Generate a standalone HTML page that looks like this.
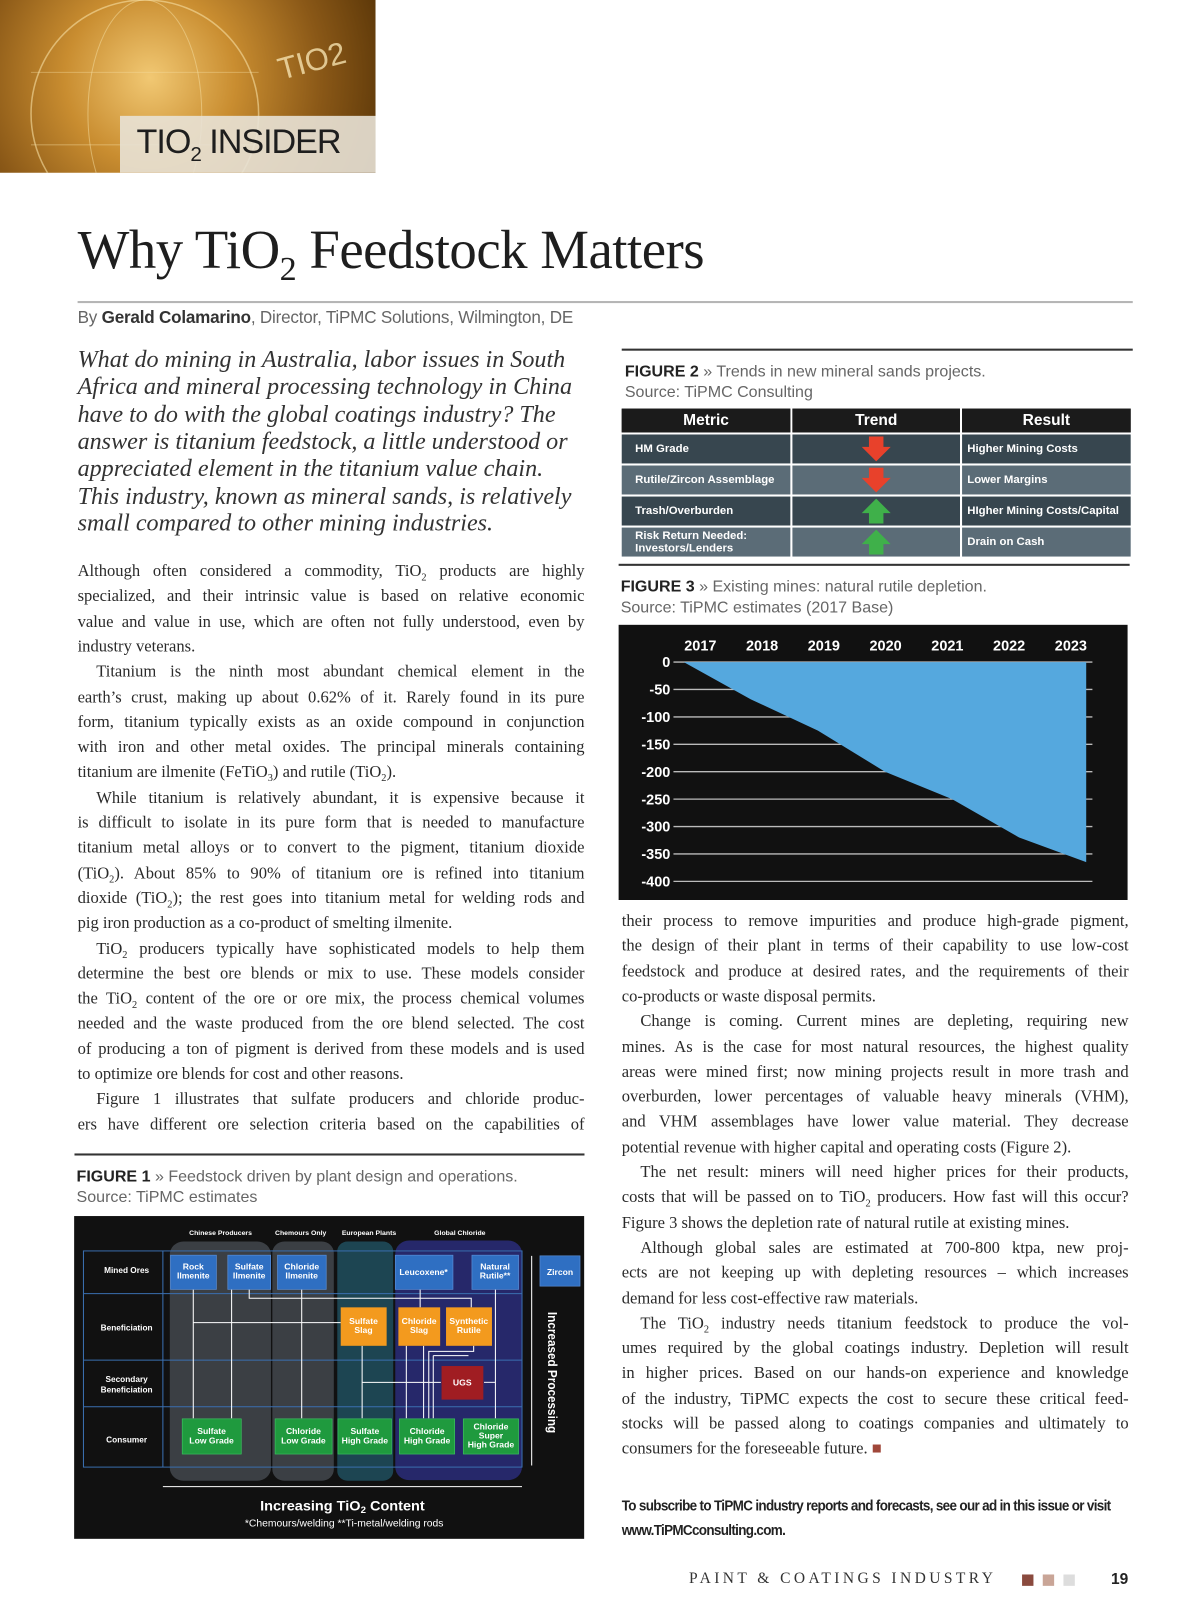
<!DOCTYPE html>
<html><head><meta charset="utf-8">
<style>
html,body{margin:0;padding:0;background:#fff;}
body{width:1200px;height:1613px;overflow:hidden;position:relative;}
#pg{position:absolute;left:0;top:0;width:1160px;height:1560px;transform:scale(1.03448);transform-origin:0 0;}
.a{position:absolute;}
.serif{font-family:"Liberation Serif",serif;}
.sans{font-family:"Liberation Sans",sans-serif;}
.ln{position:absolute;font-family:"Liberation Serif",serif;font-size:16px;color:#2a2a2a;white-space:nowrap;text-align:justify;text-align-last:justify;height:20px;line-height:20px;}
.ln.e{text-align-last:left;}
.it{position:absolute;left:75px;font-family:"Liberation Serif",serif;font-style:italic;font-size:23.3px;color:#333;white-space:nowrap;line-height:26px;}
.cap{position:absolute;font-family:"Liberation Sans",sans-serif;font-size:15.5px;color:#666;line-height:20px;white-space:nowrap;}
.cap b{color:#222;}
table.t{border-collapse:separate;border-spacing:2px;font-family:"Liberation Sans",sans-serif;color:#fff;}
</style></head><body>
<div id="pg">

<div class="a" style="left:0;top:0;width:363px;height:167px;background:radial-gradient(circle at 40% 45%,#f1c873 0%,#c98d30 35%,#8a5817 70%,#5a3608 100%);overflow:hidden;">
  <svg width="363" height="167" style="position:absolute;left:0;top:0">
    <circle cx="140" cy="110" r="110" fill="none" stroke="#f6dfa4" stroke-width="1.5" opacity=".6"/>
    <ellipse cx="140" cy="110" rx="55" ry="110" fill="none" stroke="#f6dfa4" stroke-width="1" opacity=".5"/>
    <line x1="30" y1="70" x2="250" y2="70" stroke="#f6dfa4" opacity=".4"/>
    <line x1="30" y1="140" x2="250" y2="140" stroke="#f6dfa4" opacity=".4"/>
    <text x="268" y="72" font-family="Liberation Sans,sans-serif" font-size="30" fill="#f6e3b0" opacity=".8" transform="rotate(-15 290 60)">TIO2</text>
  </svg>
  <div class="a" style="left:116px;top:112px;width:247px;height:55px;background:rgba(232,226,214,.9);"></div>
  <div class="a sans" style="left:132px;top:118px;font-size:33px;color:#1e1e1e;letter-spacing:-1px;">TIO<sub style="font-size:20px">2</sub> INSIDER</div>
</div>

<div class="a serif" style="left:75px;top:212px;font-size:53px;color:#1e1e1e;white-space:nowrap;letter-spacing:-0.5px;">Why TiO<sub style="font-size:33px">2</sub> Feedstock Matters</div>
<div class="a" style="left:75px;top:291px;width:1020px;height:2px;background:#b5b5b5"></div>
<div class="a sans" style="left:75px;top:298px;font-size:16.5px;color:#666;white-space:nowrap;letter-spacing:-0.2px;">By <b style="color:#333">Gerald Colamarino</b>, Director, TiPMC Solutions, Wilmington, DE</div>

<div class="it" style="top:335px">What do mining in Australia, labor issues in South</div>
<div class="it" style="top:361px">Africa and mineral processing technology in China</div>
<div class="it" style="top:388px">have to do with the global coatings industry? The</div>
<div class="it" style="top:414px">answer is titanium feedstock, a little understood or</div>
<div class="it" style="top:440px">appreciated element in the titanium value chain.</div>
<div class="it" style="top:467px">This industry, known as mineral sands, is relatively</div>
<div class="it" style="top:493px">small compared to other mining industries.</div>

<div id="leftcol"></div>
<div id="rightcol"></div>

<div class="a" style="left:601px;top:337px;width:494px;height:2px;background:#333"></div>
<div class="cap" style="left:604px;top:350px"><b>FIGURE 2</b> » Trends in new mineral sands projects.</div>
<div class="cap" style="left:604px;top:370px">Source: TiPMC Consulting</div>
<div class="a" style="left:599px;top:393px;">
<table class="t">
<tr style="background:#1b1b1b;height:23px;font-weight:bold;font-size:15px;text-align:center">
<td style="width:161px;background:#1b1b1b">Metric</td><td style="width:160px;background:#1b1b1b">Trend</td><td style="width:161px;background:#1b1b1b">Result</td></tr>
<tbody id="tb"></tbody>
</table></div>
<div class="a" style="left:598px;top:545px;width:494px;height:2px;background:#333"></div>
<div class="cap" style="left:600px;top:558px"><b>FIGURE 3</b> » Existing mines: natural rutile depletion.</div>
<div class="cap" style="left:600px;top:578px">Source: TiPMC estimates (2017 Base)</div>
<svg id="fig3" class="a" style="left:0;top:0" width="1160" height="900"></svg>

<div class="a" style="left:72px;top:1115px;width:493px;height:2px;background:#333"></div>
<div class="cap" style="left:74px;top:1128px"><b>FIGURE 1</b> » Feedstock driven by plant design and operations.</div>
<div class="cap" style="left:74px;top:1148px">Source: TiPMC estimates</div>
<svg class="a" style="left:69.3px;top:1143.5px" width="495.7" height="346.7" viewBox="0 0 1485 1100" preserveAspectRatio="none" font-family="Liberation Sans,sans-serif" font-weight="bold">
<rect x="8" y="100" width="1477" height="990" fill="#111"/>
<rect x="285" y="178" width="293" height="734" rx="40" fill="#3b3f44"/>
<rect x="582" y="178" width="178" height="734" rx="35" fill="#3b3f44"/>
<rect x="770" y="178" width="162" height="734" rx="30" fill="#1d4552"/>
<rect x="938" y="175" width="367" height="735" rx="40" fill="#26286a"/>
<g fill="#fff" font-size="20" text-anchor="middle">
<text x="432" y="158">Chinese Producers</text><text x="664" y="158">Chemours Only</text><text x="862" y="158">European Plants</text><text x="1125" y="158">Global Chloride</text></g>
<g fill="none" stroke="#3a6fb0" stroke-width="3">
<rect x="35" y="207" width="1270" height="663"/>
<line x1="35" y1="338" x2="1305" y2="338"/><line x1="35" y1="542" x2="1305" y2="542"/><line x1="35" y1="685" x2="1305" y2="685"/><line x1="265" y1="207" x2="265" y2="870"/></g>
<g fill="#fff" font-size="24" text-anchor="middle">
<text x="160" y="275">Mined Ores</text><text x="160" y="451">Beneficiation</text><text x="160" y="609">Secondary</text><text x="160" y="642">Beneficiation</text><text x="160" y="794">Consumer</text></g>
<g stroke="#fff" stroke-width="3" fill="none">
<polyline points="353,325 353,720"/><polyline points="464,325 464,720"/><polyline points="667,325 667,720"/><polyline points="842,498 842,720"/>
<polyline points="515,325 515,352 1158,352 1158,380"/><polyline points="1010,325 1010,380"/><polyline points="353,427 780,427"/>
<polyline points="970,498 970,720"/><polyline points="1020,498 1020,720"/><polyline points="1165,498 1165,515 1035,515 1035,720"/><polyline points="1048,528 1048,720"/><polyline points="1048,528 1150,528"/>
<polyline points="842,610 1070,610"/><polyline points="1195,610 1228,610"/><polyline points="1228,325 1228,720"/>
<polyline points="1333,222 1333,865"/><polyline points="265,930 1305,930"/></g>
<g fill="#2f6fc2" stroke="#5a8fd8" stroke-width="2">
<rect x="287" y="220" width="133" height="105"/><rect x="453" y="220" width="124" height="105"/><rect x="597" y="220" width="141" height="105"/><rect x="938" y="220" width="167" height="105"/><rect x="1160" y="220" width="135" height="105"/><rect x="1357" y="222" width="116" height="93"/></g>
<g fill="#f39a1e"><rect x="780" y="380" width="133" height="118"/><rect x="947" y="380" width="121" height="118"/><rect x="1085" y="380" width="133" height="118"/></g>
<rect x="1072" y="560" width="121" height="103" fill="#a01d22"/>
<g fill="#1f9a3e" stroke="#3cc060" stroke-width="2">
<rect x="321" y="722" width="171" height="108"/><rect x="590" y="722" width="165" height="108"/><rect x="772" y="722" width="155" height="108"/><rect x="950" y="722" width="160" height="108"/><rect x="1135" y="722" width="160" height="108"/></g>
<g fill="#fff" font-size="25" text-anchor="middle">
<text x="353" y="264">Rock</text><text x="353" y="292">Ilmenite</text>
<text x="515" y="264">Sulfate</text><text x="515" y="292">Ilmenite</text>
<text x="667" y="264">Chloride</text><text x="667" y="292">Ilmenite</text>
<text x="1020" y="281">Leucoxene*</text>
<text x="1227" y="264">Natural</text><text x="1227" y="292">Rutile**</text>
<text x="1415" y="281">Zircon</text>
<text x="846" y="431">Sulfate</text><text x="846" y="459">Slag</text>
<text x="1007" y="431">Chloride</text><text x="1007" y="459">Slag</text>
<text x="1151" y="431">Synthetic</text><text x="1151" y="459">Rutile</text>
<text x="1132" y="619">UGS</text>
<text x="406" y="769">Sulfate</text><text x="406" y="797">Low Grade</text>
<text x="672" y="769">Chloride</text><text x="672" y="797">Low Grade</text>
<text x="850" y="769">Sulfate</text><text x="850" y="797">High Grade</text>
<text x="1030" y="769">Chloride</text><text x="1030" y="797">High Grade</text>
<text x="1215" y="754">Chloride</text><text x="1215" y="782">Super</text><text x="1215" y="810">High Grade</text>
<text x="1380" y="580" font-size="36" transform="rotate(90 1380 580)">Increased Processing</text>
<text x="785" y="1003" font-size="42">Increasing TiO<tspan font-size="28" dy="8">2</tspan><tspan dy="-8"> Content</tspan></text>
<text x="790" y="1052" font-size="30" font-weight="normal">*Chemours/welding   **Ti-metal/welding rods</text></g>
</svg>

<div class="a sans" style="left:601px;top:1443px;font-size:14px;font-weight:bold;color:#222;line-height:24.3px;white-space:nowrap;letter-spacing:-0.7px;transform:scaleX(0.93);transform-origin:0 0;">To subscribe to TiPMC industry reports and forecasts, see our ad in this issue or visit<br>www.TiPMCconsulting.com.</div>
<div class="a serif" style="left:666px;top:1518px;font-size:15px;letter-spacing:3.3px;color:#333;white-space:nowrap;">PAINT &amp; COATINGS INDUSTRY</div>
<div class="a" style="left:988px;top:1522px;width:11px;height:11px;background:#8a4a3e"></div>
<div class="a" style="left:1008px;top:1522px;width:11px;height:11px;background:#c9a597"></div>
<div class="a" style="left:1028px;top:1522px;width:11px;height:11px;background:#ddd"></div>
<div class="a sans" style="left:1074px;top:1518px;font-size:15px;font-weight:bold;color:#222">19</div>
</div>

<script>
const years = ["2017","2018","2019","2020","2021","2022","2023"];
const depletion = [0, -68, -125, -200, -250, -320, -365];
const yTicks = [0, -50, -100, -150, -200, -250, -300, -350, -400];

const NS = "http://www.w3.org/2000/svg";
const svg = document.getElementById('fig3');
function yS(v){ return 640 + (-v) * 212 / 400; }
function xData(i){ return 661 + i * (389 / (years.length - 1)); }
function xLabel(i){ return 677 + i * 59.7; }
function mk(tag, attrs){ const e = document.createElementNS(NS, tag); for (const k in attrs) e.setAttribute(k, attrs[k]); svg.appendChild(e); return e; }

const bg = mk('rect', {x:598, y:604, width:492, height:266, fill:'#111'});


yTicks.forEach(v => {
  const g = mk('line', {x1:651, x2:1056, y1:yS(v), y2:yS(v), stroke:'#bbb', 'stroke-width':1.3});
  
  
  const t = mk('text', {x:648, y:yS(v)+5, 'text-anchor':'end', fill:'#fff', 'font-size':14, 'font-weight':'bold', 'font-family':'Liberation Sans,sans-serif'});
  t.textContent = v;
  
  
});
years.forEach((y, i) => {
  const t = mk('text', {x:xLabel(i), y:629, 'text-anchor':'middle', fill:'#fff', 'font-size':14, 'font-weight':'bold', 'font-family':'Liberation Sans,sans-serif'});
  t.textContent = y;
  
  
});
let pts = depletion.map((v, i) => xData(i) + ',' + yS(v)).join(' ');
pts += ' ' + xData(depletion.length - 1) + ',' + yS(0) + ' ' + xData(0) + ',' + yS(0);
const area = mk('polygon', {points:pts, fill:'#55a8de'});



const metrics = ["HM Grade","Rutile/Zircon Assemblage","Trash/Overburden","Risk Return Needed:<br>Investors/Lenders"];
const trends = ["down","down","up","up"];
const results = ["Higher Mining Costs","Lower Margins","HIgher Mining Costs/Capital","Drain on Cash"];
const tb = document.getElementById('tb');
metrics.forEach((m, i) => {
  const tr = document.createElement('tr');
  
  
  const bgc = i % 2 ? '#5b6c77' : '#37464f';
  const arrow = trends[i] === 'down'
    ? '<svg width="30" height="24"><polygon points="8,0 22,0 22,10 29,10 15,24 1,10 8,10" fill="#e8412b"/></svg>'
    : '<svg width="30" height="24"><polygon points="8,24 22,24 22,14 29,14 15,0 1,14 8,14" fill="#3fb04a"/></svg>';
  tr.innerHTML = '<td style="background:'+bgc+';height:26px;font-size:11px;font-weight:bold;padding-left:13px;line-height:12px">'+m+'</td>'
    + '<td style="background:'+bgc+';text-align:center;line-height:0">'+arrow+'</td>'
    + '<td style="background:'+bgc+';font-size:11px;font-weight:bold;padding-left:5px">'+results[i]+'</td>';
  tb.appendChild(tr);
});

const S = 'TiO<sub>2</sub>';
const leftLines = [
 ["Although often considered a commodity, "+S+" products are highly",0,0],
 ["specialized, and their intrinsic value is based on relative economic",0,0],
 ["value and value in use, which are often not fully understood, even by",0,0],
 ["industry veterans.",0,1],
 ["Titanium is the ninth most abundant chemical element in the",1,0],
 ["earth’s crust, making up about 0.62% of it. Rarely found in its pure",0,0],
 ["form, titanium typically exists as an oxide compound in conjunction",0,0],
 ["with iron and other metal oxides. The principal minerals containing",0,0],
 ["titanium are ilmenite (FeTiO<sub>3</sub>) and rutile ("+S+").",0,1],
 ["While titanium is relatively abundant, it is expensive because it",1,0],
 ["is difficult to isolate in its pure form that is needed to manufacture",0,0],
 ["titanium metal alloys or to convert to the pigment, titanium dioxide",0,0],
 ["("+S+"). About 85% to 90% of titanium ore is refined into titanium",0,0],
 ["dioxide ("+S+"); the rest goes into titanium metal for welding rods and",0,0],
 ["pig iron production as a co-product of smelting ilmenite.",0,1],
 [S+" producers typically have sophisticated models to help them",1,0],
 ["determine the best ore blends or mix to use. These models consider",0,0],
 ["the "+S+" content of the ore or ore mix, the process chemical volumes",0,0],
 ["needed and the waste produced from the ore blend selected. The cost",0,0],
 ["of producing a ton of pigment is derived from these models and is used",0,0],
 ["to optimize ore blends for cost and other reasons.",0,1],
 ["Figure 1 illustrates that sulfate producers and chloride produc-",1,0],
 ["ers have different ore selection criteria based on the capabilities of",0,0]
];
const rightLines = [
 ["their process to remove impurities and produce high-grade pigment,",0,0],
 ["the design of their plant in terms of their capability to use low-cost",0,0],
 ["feedstock and produce at desired rates, and the requirements of their",0,0],
 ["co-products or waste disposal permits.",0,1],
 ["Change is coming. Current mines are depleting, requiring new",1,0],
 ["mines. As is the case for most natural resources, the highest quality",0,0],
 ["areas were mined first; now mining projects result in more trash and",0,0],
 ["overburden, lower percentages of valuable heavy minerals (VHM),",0,0],
 ["and VHM assemblages have lower value material. They decrease",0,0],
 ["potential revenue with higher capital and operating costs (Figure 2).",0,1],
 ["The net result: miners will need higher prices for their products,",1,0],
 ["costs that will be passed on to "+S+" producers. How fast will this occur?",0,0],
 ["Figure 3 shows the depletion rate of natural rutile at existing mines.",0,1],
 ["Although global sales are estimated at 700-800 ktpa, new proj-",1,0],
 ["ects are not keeping up with depleting resources – which increases",0,0],
 ["demand for less cost-effective raw materials.",0,1],
 ["The "+S+" industry needs titanium feedstock to produce the vol-",1,0],
 ["umes required by the global coatings industry. Depletion will result",0,0],
 ["in higher prices. Based on our hands-on experience and knowledge",0,0],
 ["of the industry, TiPMC expects the cost to secure these critical feed-",0,0],
 ["stocks will be passed along to coatings companies and ultimately to",0,0],
 ["consumers for the foreseeable future. <span style=\"color:#a0473a\">■</span>",0,1]
];
function place(lines, left, top0, cont){
  const c = document.getElementById(cont);
  lines.forEach((l, i) => {
    const d = document.createElement('div');
    d.className = 'ln' + (l[2] ? ' e' : '');
    
    
    const ind = l[1] ? 18 : 0;
    d.style.left = (left + ind) + 'px';
    d.style.width = (490 - ind) + 'px';
    d.style.top = (top0 + i * 24.3 - 10) + 'px';
    d.innerHTML = l[0].replace(/<sub>/g,'<sub style="font-size:10px;line-height:0">');
    c.appendChild(d);
  });
}
place(leftLines, 75, 553, 'leftcol');
place(rightLines, 601, 891, 'rightcol');
</script>
</body></html>
